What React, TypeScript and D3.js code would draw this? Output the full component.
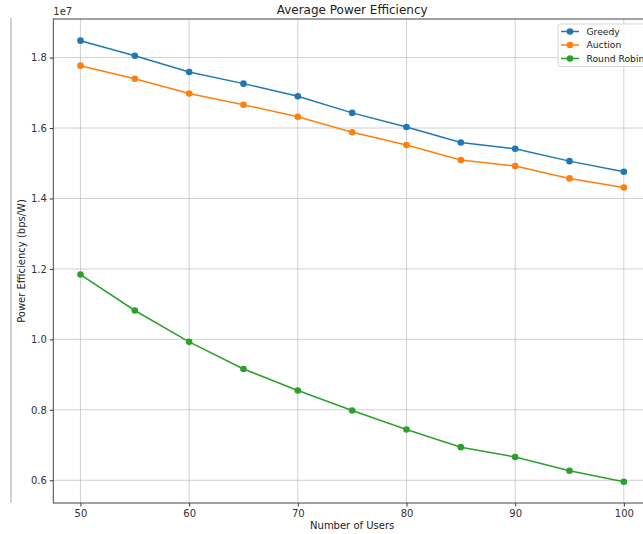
import { useEffect, useRef } from 'react'
import * as d3 from 'd3'

const users = [50, 55, 60, 65, 70, 75, 80, 85, 90, 95, 100]
const greedy = [18.48, 18.05, 17.59, 17.26, 16.9, 16.43, 16.03, 15.59, 15.41, 15.06, 14.76].map(v => v * 1e6)
const auction = [17.77, 17.4, 16.98, 16.66, 16.32, 15.88, 15.52, 15.09, 14.92, 14.57, 14.31].map(v => v * 1e6)
const roundRobin = [11.84, 10.82, 9.93, 9.16, 8.55, 7.98, 7.44, 6.94, 6.66, 6.27, 5.96].map(v => v * 1e6)
const yTicks = [0.6, 0.8, 1.0, 1.2, 1.4, 1.6, 1.8]
const xTicks = [50, 60, 70, 80, 90, 100]

const series = [
  { name: 'Greedy', values: greedy, color: '#1f77b4' },
  { name: 'Auction', values: auction, color: '#ff7f0e' },
  { name: 'Round Robin', values: roundRobin, color: '#2ca02c' },
]

export default function App() {
  const svgRef = useRef<SVGSVGElement>(null)

  useEffect(() => {
    if (!svgRef.current) return
    const svg = d3.select(svgRef.current)
    svg.selectAll('*').remove()

    const width = 643
    const height = 534
    const left = 53.3, right = 651, top = 19, bottom = 503
    const font = 'DejaVu Sans, sans-serif'

    svg.attr('width', width).attr('height', height)

    const x = d3.scaleLinear().domain([47.5, 102.5]).range([left, right])
    const y = d3.scaleLinear().domain([0.5355e7, 1.9095e7]).range([bottom, top])

    // stray divider on the left edge
    svg.append('line')
      .attr('x1', 11).attr('x2', 11).attr('y1', 18).attr('y2', 503)
      .attr('stroke', '#d0d0d0').attr('stroke-width', 2)

    // grid
    const grid = svg.append('g').attr('stroke', '#b0b0b0').attr('stroke-opacity', 0.6).attr('stroke-width', 1)
    xTicks.forEach(t => {
      grid.append('line').attr('x1', x(t)).attr('x2', x(t)).attr('y1', top).attr('y2', bottom)
    })
    yTicks.forEach(t => {
      grid.append('line').attr('x1', left).attr('x2', right).attr('y1', y(t * 1e7)).attr('y2', y(t * 1e7))
    })

    // axes
    const xAxis = svg.append('g')
      .attr('transform', `translate(0,${bottom})`)
      .call(d3.axisBottom(x).tickValues(xTicks).tickSize(3.5).tickPadding(3).tickFormat(d => String(d)))
    const yAxis = svg.append('g')
      .attr('transform', `translate(${left},0)`)
      .call(d3.axisLeft(y).tickValues(yTicks.map(t => t * 1e7)).tickSize(3.5).tickPadding(3)
        .tickFormat(d => (Number(d) / 1e7).toFixed(1)))
    ;[xAxis, yAxis].forEach(a => {
      a.select('.domain').remove()
      a.selectAll('line').attr('stroke', '#333')
      a.selectAll('text').attr('fill', '#333').style('font-family', font).style('font-size', '10px')
    })

    // spines
    svg.append('rect')
      .attr('x', left).attr('y', top).attr('width', right - left).attr('height', bottom - top)
      .attr('fill', 'none').attr('stroke', '#444').attr('stroke-width', 1)

    // lines
    const line = d3.line<number>()
      .x((_, i) => x(users[i]))
      .y(d => y(d))

    series.forEach(s => {
      svg.append('path')
        .attr('d', line(s.values))
        .attr('fill', 'none')
        .attr('stroke', s.color)
        .attr('stroke-width', 1.5)
      svg.append('g').selectAll('circle')
        .data(s.values)
        .enter().append('circle')
        .attr('cx', (_, i) => x(users[i]))
        .attr('cy', d => y(d))
        .attr('r', 3.3)
        .attr('fill', s.color)
    })

    // texts
    svg.append('text')
      .attr('x', (left + right) / 2).attr('y', 14)
      .attr('text-anchor', 'middle')
      .style('font-family', font).style('font-size', '12px').attr('fill', '#222')
      .text('Average Power Efficiency')

    svg.append('text')
      .attr('x', left).attr('y', 15)
      .style('font-family', font).style('font-size', '10px').attr('fill', '#333')
      .text('1e7')

    svg.append('text')
      .attr('x', (left + right) / 2).attr('y', 529)
      .attr('text-anchor', 'middle')
      .style('font-family', font).style('font-size', '10px').attr('fill', '#222')
      .text('Number of Users')

    svg.append('text')
      .attr('transform', `translate(25,${(top + bottom) / 2}) rotate(-90)`)
      .attr('text-anchor', 'middle')
      .style('font-family', font).style('font-size', '10px').attr('fill', '#222')
      .text('Power Efficiency (bps/W)')

    // legend
    const lg = svg.append('g').attr('transform', 'translate(558,24)')
    lg.append('rect')
      .attr('width', 100).attr('height', 42.5).attr('rx', 2)
      .attr('fill', 'white').attr('fill-opacity', 0.8)
      .attr('stroke', '#d5d5d5')
    series.forEach((s, i) => {
      const cy = 7.5 + i * 13.5
      lg.append('line').attr('x1', 3).attr('x2', 21).attr('y1', cy).attr('y2', cy)
        .attr('stroke', s.color).attr('stroke-width', 1.5)
      lg.append('circle').attr('cx', 12).attr('cy', cy).attr('r', 3.3).attr('fill', s.color)
      lg.append('text').attr('x', 28.5).attr('y', cy + 3.3)
        .style('font-family', font).style('font-size', '9.2px').attr('fill', '#222')
        .text(s.name)
    })
  }, [])

  return (
    <div style={{ position: 'absolute', left: 0, top: 0 }}>
      <svg ref={svgRef} style={{ display: 'block', background: 'white' }}></svg>
    </div>
  )
}
